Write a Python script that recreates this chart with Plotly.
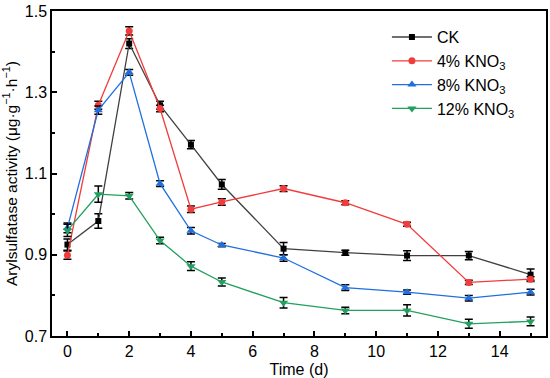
import plotly.graph_objects as go

days = [0, 1, 2, 3, 4, 5, 7, 9, 11, 13, 15]

ck = [0.925, 0.983, 1.420, 1.268, 1.171, 1.073, 0.915, 0.905, 0.898, 0.898, 0.851]
ck_err = [0.014, 0.018, 0.012, 0.010, 0.010, 0.012, 0.015, 0.006, 0.012, 0.010, 0.014]

kno3_4 = [0.899, 1.268, 1.451, 1.260, 1.012, 1.030, 1.063, 1.028, 0.975, 0.832, 0.840]
kno3_4_err = [0.010, 0.010, 0.010, 0.008, 0.008, 0.008, 0.007, 0.005, 0.005, 0.005, 0.006]

kno3_8 = [0.966, 1.256, 1.349, 1.075, 0.959, 0.924, 0.892, 0.819, 0.808, 0.793, 0.808]
kno3_8_err = [0.012, 0.010, 0.007, 0.007, 0.008, 0.004, 0.008, 0.007, 0.005, 0.007, 0.007]

kno3_12 = [0.960, 1.049, 1.045, 0.935, 0.872, 0.833, 0.782, 0.763, 0.763, 0.730, 0.736]
kno3_12_err = [0.015, 0.020, 0.008, 0.008, 0.011, 0.010, 0.013, 0.008, 0.014, 0.011, 0.011]

names = ["CK", "4% KNO<sub>3</sub>", "8% KNO<sub>3</sub>", "12% KNO<sub>3</sub>"]
values = [ck, kno3_4, kno3_8, kno3_12]
errors = [ck_err, kno3_4_err, kno3_8_err, kno3_12_err]
line_colors = ["#404040", "#F23C3C", "#1F6FE0", "#22A05E"]
marker_colors = ["#000000", "#F23C3C", "#1F6FE0", "#22A05E"]
symbols = ["square", "circle", "triangle-up", "triangle-down"]
sizes = [6, 7, 8, 8]

fig = go.Figure()
for n, v, e, lc, mc, s, sz in zip(names, values, errors, line_colors, marker_colors, symbols, sizes):
    fig.add_trace(go.Scatter(
        x=days, y=v, name=n, mode="lines+markers",
        line=dict(color=lc, width=1.3),
        marker=dict(symbol=s, size=sz, color=mc),
        error_y=dict(type="data", array=e, visible=True, color="black", thickness=1.5, width=4),
    ))

font = dict(family="Liberation Sans, Arial, sans-serif", size=16, color="black")
fig.update_layout(
    width=550, height=378,
    margin=dict(l=52, r=4, t=11, b=42),
    plot_bgcolor="white", paper_bgcolor="white",
    font=font,
    legend=dict(x=0.678, y=0.972, xanchor="left", yanchor="top", itemwidth=40,
                bgcolor="rgba(0,0,0,0)", font=dict(size=16), tracegroupgap=0),
    xaxis=dict(
        title=dict(text="Time (d)", font=dict(size=16)),
        automargin=False,
        range=[-0.5, 15.5], tickvals=[0, 2, 4, 6, 8, 10, 12, 14],
        ticks="inside", ticklen=5, tickwidth=1.5, tickcolor="black",
        showline=True, linecolor="black", linewidth=1.5, mirror=True,
        showgrid=False, zeroline=False,
        minor=dict(tickvals=[1, 3, 5, 7, 9, 11, 13, 15], ticks="inside", ticklen=3, tickwidth=1.5, tickcolor="black"),
    ),
    yaxis=dict(
        title=dict(text="Arylsulfatase activity (μg·g<sup>−1</sup>·h<sup>−1</sup>)", font=dict(size=15.5)),
        automargin=False,
        range=[0.7, 1.5], tickvals=[0.7, 0.9, 1.1, 1.3, 1.5], ticktext=["0.7", "0.9", "1.1", "1.3", "1.5"],
        ticks="inside", ticklen=5, tickwidth=1.5, tickcolor="black",
        showline=True, linecolor="black", linewidth=1.5, mirror=True,
        showgrid=False, zeroline=False,
        minor=dict(tickvals=[0.8, 1.0, 1.2, 1.4], ticks="inside", ticklen=3, tickwidth=1.5, tickcolor="black"),
    ),
)

fig.write_html("out.html", config={"displayModeBar": False},
               post_script="document.body.style.margin='0';")
